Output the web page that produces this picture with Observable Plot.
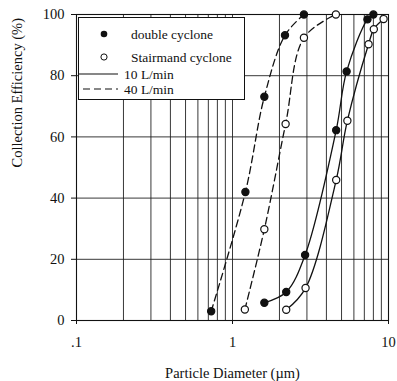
<!DOCTYPE html>
<html><head><meta charset="utf-8">
<script src="https://cdn.jsdelivr.net/npm/d3@7"></script>
<script src="https://cdn.jsdelivr.net/npm/@observablehq/plot@0.6"></script>
<style>
body{margin:0;background:#fff;}
#wrap{position:relative;width:397px;height:381px;font-family:"Liberation Serif","Times New Roman",serif;}
#legend{position:absolute;left:78px;top:17px;width:167px;height:83px;background:#fff;border:1.2px solid #111;box-sizing:border-box;}
#legend svg{display:block;overflow:visible;}
</style></head><body><div id="wrap"><div id="legend"></div></div>
<script>
// Series: double cyclone and Stairmand cyclone at 40 and 10 L/min
const dc40Diam = [0.73, 1.21, 1.60, 2.17, 2.87];
const dc40Eff  = [3.0, 42.0, 73.1, 93.2, 100];
const st40Diam = [1.20, 1.60, 2.19, 2.87, 4.60];
const st40Eff  = [3.6, 29.8, 64.2, 92.4, 100];
const dc10Diam = [1.60, 2.21, 2.92, 4.62, 5.39, 7.33, 8.0];
const dc10Eff  = [5.8, 9.3, 21.4, 62.2, 81.4, 98.4, 100];
const st10Diam = [2.21, 2.94, 4.62, 5.45, 7.45, 8.05, 9.3];
const st10Eff  = [3.5, 10.6, 45.9, 65.3, 90.3, 95.2, 98.5];

const xTicks = [0.1, 1, 10];
const xTickLabels = [".1", "1", "10"];
const yTicks = [0, 20, 40, 60, 80, 100];
const xGrid = [0.2,0.3,0.4,0.5,0.6,0.7,0.8,0.9,1,2,3,4,5,6,7,8,9];
const yGrid = [20, 40, 60, 80];
const xLabel = "Particle Diameter (\u00b5m)";
const yLabel = "Collection Efficiency (%)";
const legendItems = ["double cyclone", "Stairmand cyclone", "10 L/min", "40 L/min"];

const series = [
  {name: "dc40", d: dc40Diam, e: dc40Eff, filled: true, dashed: true},
  {name: "st40", d: st40Diam, e: st40Eff, filled: false, dashed: true},
  {name: "dc10", d: dc10Diam, e: dc10Eff, filled: true, dashed: false},
  {name: "st10", d: st10Diam, e: st10Eff, filled: false, dashed: false}
];

const marks = [
  Plot.ruleX(xGrid, {stroke: "#222", strokeWidth: 0.9}),
  Plot.ruleY(yGrid, {stroke: "#222", strokeWidth: 0.9}),
  Plot.frame({stroke: "#111", strokeWidth: 1.1}),
  Plot.axisX({ticks: xTicks, tickFormat: (d, i) => xTickLabels[xTicks.indexOf(d)], tickSize: 4, tickPadding: 12, fontSize: 14.5, label: null}),
  Plot.axisY({ticks: yTicks, tickSize: 5, tickPadding: 7, fontSize: 14.5, label: null}),
  Plot.text([xLabel], {frameAnchor: "bottom", dy: 53, fontSize: 14.5, lineAnchor: "middle"}),
  Plot.text([yLabel], {frameAnchor: "left", dx: -59, rotate: -90, fontSize: 14.5, lineAnchor: "middle"})
];
for (const s of series) {
  const data = s.d.map((d, i) => ({d, e: s.e[i]}));
  marks.push(Plot.line(data, {x: "d", y: "e", curve: "catmull-rom", stroke: "#111", strokeWidth: 1.3, strokeDasharray: s.dashed ? "7,4" : null}));
  marks.push(Plot.dot(data, {x: "d", y: "e", r: 3.6, fill: s.filled ? "#111" : "#fff", stroke: "#111", strokeWidth: 1.2}));
}

const chart = Plot.plot({
  width: 397, height: 381,
  marginLeft: 76, marginRight: 9, marginTop: 14, marginBottom: 61,
  style: {fontFamily: "'Liberation Serif','Times New Roman',serif", fontSize: "14.5px", color: "#111", background: "#fff"},
  x: {type: "log", domain: [0.1, 10]},
  y: {domain: [0, 100]},
  marks
});
const wrap = document.getElementById("wrap");
wrap.insertBefore(chart, wrap.firstChild);

// Legend (white box over the plot)
const lg = d3.select("#legend").append("svg").attr("width", 164).attr("height", 80)
  .style("font-family", "'Liberation Serif','Times New Roman',serif").style("font-size", "13.5px");
const rows = [16, 39, 56, 71];
lg.append("circle").attr("cx", 25).attr("cy", rows[0]).attr("r", 3.3).attr("fill", "#111");
lg.append("circle").attr("cx", 25).attr("cy", rows[1]).attr("r", 3.1).attr("fill", "#fff").attr("stroke", "#111").attr("stroke-width", 1);
lg.append("line").attr("x1", 0).attr("x2", 39).attr("y1", rows[2]).attr("y2", rows[2]).attr("stroke", "#111").attr("stroke-width", 1.2);
lg.append("line").attr("x1", 4).attr("x2", 39).attr("y1", rows[3]).attr("y2", rows[3]).attr("stroke", "#111").attr("stroke-width", 1.2).attr("stroke-dasharray", "7,4");
legendItems.forEach((t, i) => {
  lg.append("text").attr("x", i < 2 ? 52 : 45).attr("y", rows[i]).attr("dy", "0.35em").attr("fill", "#111").text(t);
});
</script></body></html>
